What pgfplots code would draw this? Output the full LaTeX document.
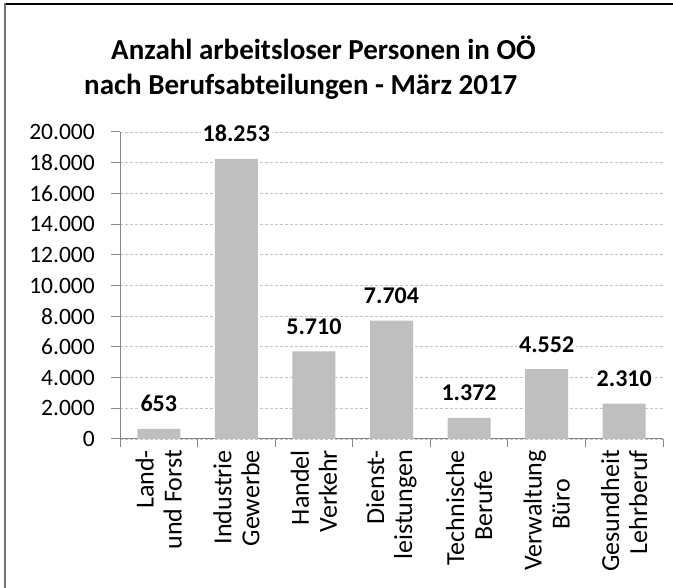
\documentclass[border=0pt]{standalone}
\usepackage{fontspec}
\setmainfont{Carlito}
\usepackage{pgfplots}
\pgfplotsset{compat=1.18}
\definecolor{bargray}{HTML}{BFBFBF}
\definecolor{axgray}{HTML}{868686}
\definecolor{gridgray}{HTML}{C4C4C4}
\begin{document}
\begin{tikzpicture}[x=1bp,y=1bp]
\path[use as bounding box] (0,0) rectangle (673,588);
\draw[black, line width=1.3bp] (4,584) -- (673,584);
\draw[black!55, line width=2bp] (5,0) -- (5,585);
\node[anchor=base west, inner sep=0pt, font=\fontsize{29bp}{33bp}\selectfont\bfseries] at (111,528) {Anzahl arbeitsloser Personen in OÖ};
\node[anchor=base west, inner sep=0pt, font=\fontsize{29bp}{33bp}\selectfont\bfseries] at (84,493) {nach Berufsabteilungen - März 2017};
\begin{axis}[
  at={(120bp,149bp)}, anchor=south west,
  scale only axis, width=543bp, height=307bp,
  xmin=-0.5, xmax=6.5, ymin=0, ymax=20000,
  clip=false,
  axis x line*=bottom, axis y line*=left,
  axis line style={axgray, line width=1bp},
  every tick/.style={axgray, line width=1bp},
  tick align=outside,
  major tick length=9bp, minor tick length=8bp,
  ytick={0,2000,...,20000},
  scaled y ticks=false,
  xtick={0,...,6},
  major x tick style={draw=none},
  minor xtick={-0.5,0.5,...,6.5},
  ymajorgrids,
  grid style={gridgray, dash pattern=on 3bp off 2bp, line width=0.8bp},
  /pgf/number format/1000 sep={.},
  /pgf/number format/assume math mode=true,
  yticklabel style={font=\fontsize{23.5bp}{27bp}\selectfont, inner sep=0pt, xshift=-16bp},
  xticklabels={{Land-\\und Forst},{Industrie\\Gewerbe},{Handel\\Verkehr},{Dienst-\\leistungen},{Technische\\Berufe\hspace*{20bp}},{Verwaltung\\Büro\hspace*{29bp}},{Gesundheit\\Lehrberuf}},
  xticklabel style={font=\fontsize{26bp}{28bp}\selectfont, rotate=90, anchor=east, align=right, inner sep=0pt, xshift=-2bp},
  nodes near coords,
  every node near coord/.append style={font=\fontsize{24bp}{28bp}\selectfont\bfseries, fill=white, inner sep=2bp, anchor=base, yshift=17bp},
]
\addplot[ybar, fill=bargray, draw=none, bar width=43bp] coordinates {(0,653) (1,18253) (2,5710) (3,7704) (4,1372) (5,4552) (6,2310)};
\end{axis}
\end{tikzpicture}
\end{document}
